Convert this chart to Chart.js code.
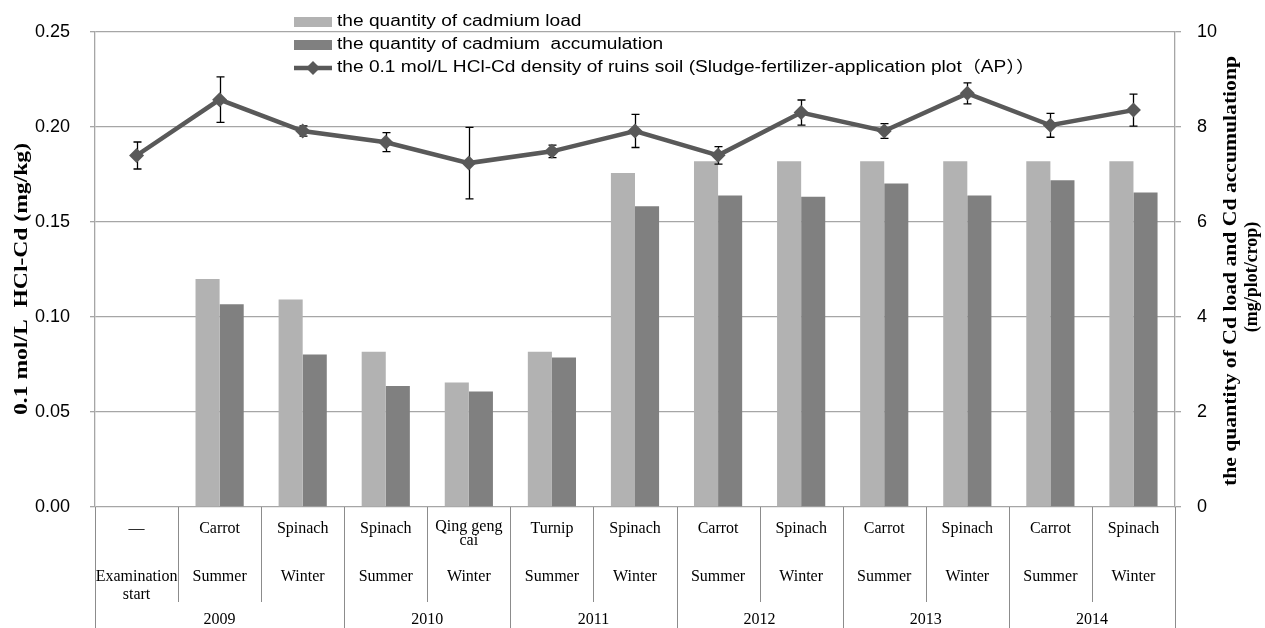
<!DOCTYPE html>
<html>
<head>
<meta charset="utf-8">
<script src="https://cdn.jsdelivr.net/npm/chart.js@4.4.1/dist/chart.umd.min.js"></script>
<style>
  html, body { margin: 0; padding: 0; background: #fff; }
  canvas { display: block; }
</style>
</head>
<body>
<canvas id="cdChart" width="1265" height="628"></canvas>
<script>
// categories (three-level x axis)
const crops = ['—', 'Carrot', 'Spinach', 'Spinach', ['Qing geng', 'cai'], 'Turnip', 'Spinach',
  'Carrot', 'Spinach', 'Carrot', 'Spinach', 'Carrot', 'Spinach'];
const seasons = [['Examination', 'start'], 'Summer', 'Winter', 'Summer', 'Winter', 'Summer', 'Winter',
  'Summer', 'Winter', 'Summer', 'Winter', 'Summer', 'Winter'];
const years = ['2009', '2010', '2011', '2012', '2013', '2014'];
const yearSpans = [3, 2, 2, 2, 2, 2];

// series
const cdLoad = [null, 4.80, 4.37, 3.27, 2.62, 3.27, 7.03, 7.28, 7.28, 7.28, 7.28, 7.28, 7.28];
const cdAccum = [null, 4.27, 3.21, 2.55, 2.43, 3.15, 6.33, 6.56, 6.53, 6.81, 6.56, 6.88, 6.62];
const hclCd = [0.185, 0.2144, 0.1979, 0.192, 0.181, 0.1872, 0.1979, 0.1851, 0.2076, 0.1979, 0.2177, 0.2009, 0.2089];
const hclErr = [0.0071, 0.012, 0.0027, 0.005, 0.0188, 0.0033, 0.0087, 0.0046, 0.0066, 0.0039, 0.0055, 0.0063, 0.0084];

const legendLabels = [
  'the quantity of cadmium load',
  'the quantity of cadmium  accumulation',
  'the 0.1 mol/L HCl-Cd density of ruins soil (Sludge-fertilizer-application plot（AP））'
];
const leftTitle = '0.1 mol/L  HCl-Cd (mg/kg)';
const rightTitle = ['the quantity of Cd load and Cd accumulationp', '(mg/plot/crop)'];

const LIGHT = '#b2b2b2';
const DARK = '#808080';
const LINE_GREY = '#595959';
const GRID = '#a6a6a6';
const SANS = "'Liberation Sans', 'Noto Sans CJK SC', sans-serif";
const SERIF = "'Liberation Serif', 'Noto Sans CJK SC', serif";

function drawLines(ctx, text, x, y, lh) {
  const lines = Array.isArray(text) ? text : [text];
  lines.forEach((t, k) => ctx.fillText(t, x, y + k * lh));
}

// draw text stretched along its direction to a given length (the source figure is stretched)
function fitText(ctx, text, x, y, len) {
  const w = ctx.measureText(text).width;
  ctx.save();
  ctx.translate(x, y);
  ctx.scale(len / w, 1);
  ctx.fillText(text, 0, 0);
  ctx.restore();
}

// error bars under the HCl-Cd line
const errorBars = {
  id: 'errorBars',
  beforeDatasetDraw(chart, args) {
    if (args.index !== 2) return;
    const x = chart.scales.x, y = chart.scales.y, ctx = chart.ctx;
    ctx.save();
    ctx.strokeStyle = '#000';
    ctx.lineWidth = 1.3;
    hclCd.forEach((v, i) => {
      const px = Math.round(x.getPixelForValue(i)) + 0.5;
      const top = y.getPixelForValue(v + hclErr[i]);
      const bot = y.getPixelForValue(v - hclErr[i]);
      ctx.beginPath();
      ctx.moveTo(px, top); ctx.lineTo(px, bot);
      ctx.moveTo(px - 4, top); ctx.lineTo(px + 4, top);
      ctx.moveTo(px - 4, bot); ctx.lineTo(px + 4, bot);
      ctx.stroke();
    });
    ctx.restore();
  }
};

// table-like x axis, legend and axis titles
const decorations = {
  id: 'decorations',
  afterDraw(chart) {
    const ctx = chart.ctx, x = chart.scales.x, area = chart.chartArea;
    const H = chart.height;
    const half = (x.getPixelForValue(1) - x.getPixelForValue(0)) / 2;
    const yearEdges = [0];
    yearSpans.forEach(s => yearEdges.push(yearEdges[yearEdges.length - 1] + s));

    ctx.save();
    ctx.strokeStyle = '#8c8c8c';
    ctx.lineWidth = 1;
    for (let i = 0; i <= crops.length; i++) {
      const px = Math.round(x.getPixelForValue(i) - half) + 0.5;
      const bottom = yearEdges.includes(i) ? H : area.bottom + 95;
      ctx.beginPath();
      ctx.moveTo(px, area.bottom);
      ctx.lineTo(px, bottom);
      ctx.stroke();
    }

    ctx.fillStyle = '#000';
    ctx.textAlign = 'center';
    ctx.textBaseline = 'middle';
    ctx.font = '16px ' + SERIF;
    crops.forEach((c, i) => {
      const px = x.getPixelForValue(i);
      const y0 = Array.isArray(c) ? area.bottom + 20 : area.bottom + 22;
      drawLines(ctx, c, px, y0, 14);
      drawLines(ctx, seasons[i], px, area.bottom + 70, 18);
    });
    let start = 0;
    years.forEach((yr, k) => {
      const a = x.getPixelForValue(start) - half;
      const b = x.getPixelForValue(start + yearSpans[k] - 1) + half;
      ctx.fillText(yr, (a + b) / 2, H - 8);
      start += yearSpans[k];
    });

    // axis titles
    ctx.font = 'bold 19px ' + SERIF;
    ctx.save();
    ctx.translate(22, 279);
    ctx.rotate(-Math.PI / 2);
    fitText(ctx, leftTitle, 0, 0, 272);
    ctx.restore();
    ctx.save();
    ctx.translate(1231, 271);
    ctx.rotate(-Math.PI / 2);
    fitText(ctx, rightTitle[0], 0, 0, 430);
    ctx.font = 'bold 18px ' + SERIF;
    ctx.fillText(rightTitle[1], -6, 21);
    ctx.restore();

    // legend
    const lx = 294, ly = [22, 45, 68];
    ctx.fillStyle = LIGHT;
    ctx.fillRect(lx, ly[0] - 5, 38, 10);
    ctx.fillStyle = DARK;
    ctx.fillRect(lx, ly[1] - 5, 38, 10);
    ctx.strokeStyle = LINE_GREY;
    ctx.lineWidth = 4.5;
    ctx.beginPath();
    ctx.moveTo(lx, ly[2]); ctx.lineTo(lx + 38, ly[2]);
    ctx.stroke();
    ctx.fillStyle = LINE_GREY;
    ctx.beginPath();
    ctx.moveTo(lx + 19, ly[2] - 7); ctx.lineTo(lx + 26, ly[2]);
    ctx.lineTo(lx + 19, ly[2] + 7); ctx.lineTo(lx + 12, ly[2]);
    ctx.closePath();
    ctx.fill();
    ctx.fillStyle = '#000';
    ctx.textAlign = 'left';
    ctx.font = '16px ' + SANS;
    const stretch = 698 / ctx.measureText(legendLabels[2]).width;
    legendLabels.forEach((t, k) => {
      fitText(ctx, t, lx + 43, ly[k], ctx.measureText(t).width * stretch);
    });
    ctx.restore();
  }
};

const ctx = document.getElementById('cdChart').getContext('2d');
new Chart(ctx, {
  data: {
    labels: crops.map((c, i) => i),
    datasets: [
      {
        type: 'bar', label: legendLabels[0], data: cdLoad, yAxisID: 'y2',
        backgroundColor: LIGHT, categoryPercentage: 0.58, barPercentage: 1, order: 2
      },
      {
        type: 'bar', label: legendLabels[1], data: cdAccum, yAxisID: 'y2',
        backgroundColor: DARK, categoryPercentage: 0.58, barPercentage: 1, order: 2
      },
      {
        type: 'line', label: legendLabels[2], data: hclCd, yAxisID: 'y',
        borderColor: LINE_GREY, borderWidth: 4.5, backgroundColor: LINE_GREY,
        pointStyle: 'rectRot', pointRadius: 7.5, pointBorderWidth: 0, tension: 0, order: 1
      }
    ]
  },
  options: {
    responsive: false,
    animation: false,
    layout: { padding: { top: 32, left: 0, right: 0, bottom: 0 } },
    plugins: { legend: { display: false }, tooltip: { enabled: false } },
    scales: {
      x: {
        type: 'category',
        offset: true,
        grid: { display: false },
        border: { display: false },
        ticks: { display: false },
        afterFit(scale) { scale.height = 121; }
      },
      y: {
        position: 'left',
        min: 0, max: 0.25,
        ticks: { stepSize: 0.05, padding: 20, color: '#000', font: { family: SANS, size: 18 },
          callback: v => v.toFixed(2) },
        grid: { color: GRID, lineWidth: 1.3, tickLength: 5 },
        border: { color: GRID, width: 1.3 },
        afterFit(scale) { scale.width = 95; }
      },
      y2: {
        position: 'right',
        min: 0, max: 10,
        ticks: { stepSize: 2, padding: 16, color: '#000', font: { family: SANS, size: 18 } },
        grid: { drawOnChartArea: false, color: GRID, lineWidth: 1.3, tickLength: 6 },
        border: { color: GRID, width: 1.3 },
        afterFit(scale) { scale.width = 90; }
      }
    }
  },
  plugins: [errorBars, decorations]
});
</script>
</body>
</html>
